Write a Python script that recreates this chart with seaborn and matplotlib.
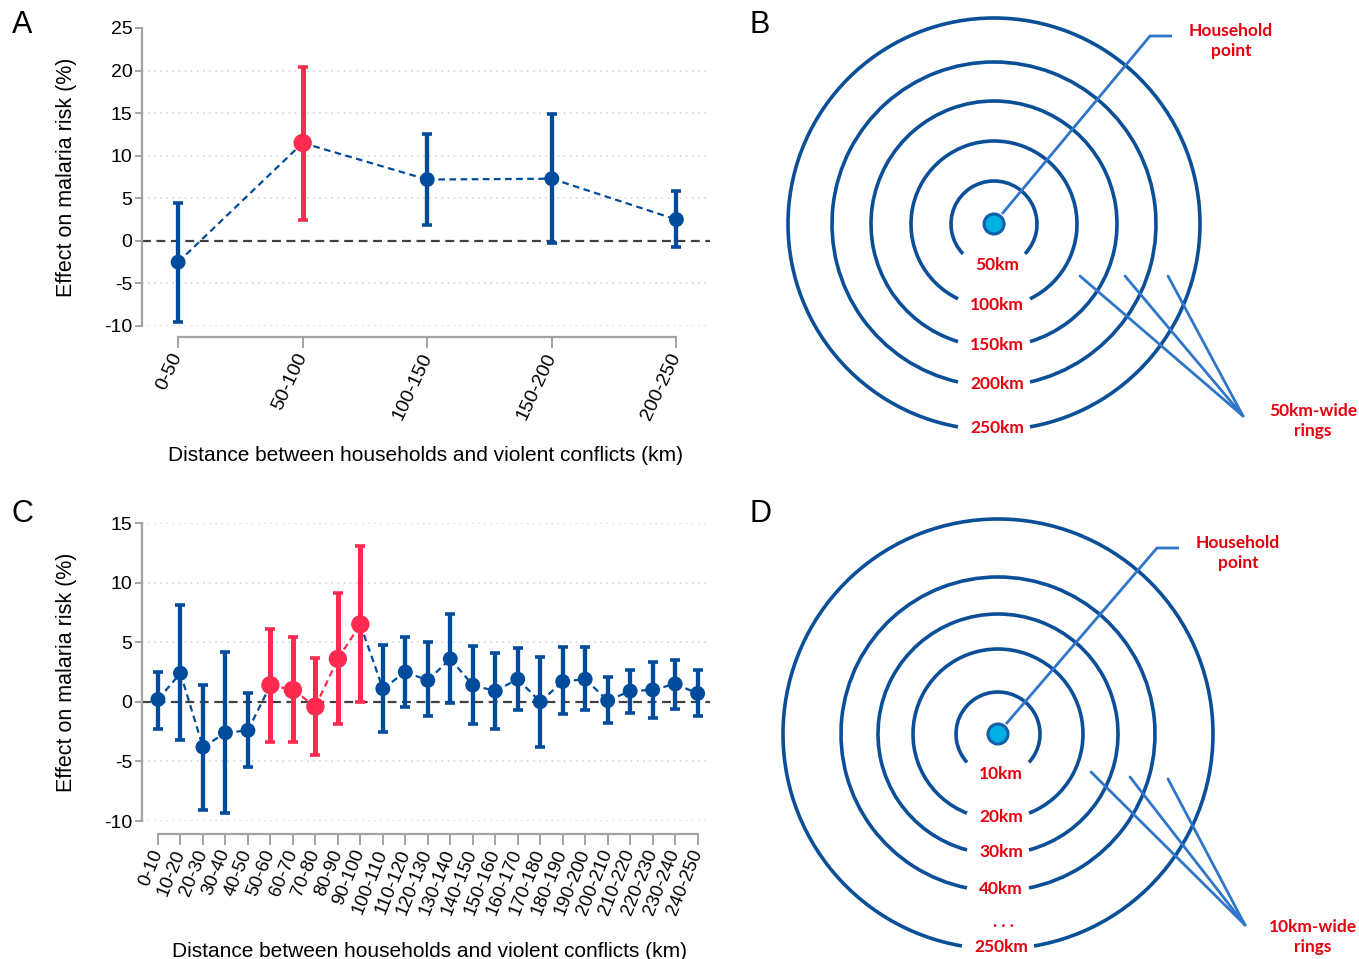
import numpy as np
import pandas as pd
import matplotlib
matplotlib.use('Agg')
import matplotlib.pyplot as plt
from matplotlib.patches import Arc, Circle
import seaborn as sns

# ---- data: effect on malaria risk (%) by distance band ----
bins_50 = ['0-50', '50-100', '100-150', '150-200', '200-250']
est_50 = [-2.5, 11.5, 7.2, 7.3, 2.5]
lo_50 = [-9.5, 2.5, 1.9, -0.2, -0.7]
hi_50 = [4.4, 20.4, 12.6, 14.9, 5.8]
sig_50 = [False, True, False, False, False]

bins_10 = ['0-10', '10-20', '20-30', '30-40', '40-50', '50-60', '60-70', '70-80',
           '80-90', '90-100', '100-110', '110-120', '120-130', '130-140', '140-150',
           '150-160', '160-170', '170-180', '180-190', '190-200', '200-210',
           '210-220', '220-230', '230-240', '240-250']
est_10 = [0.2, 2.4, -3.8, -2.6, -2.4, 1.4, 1.0, -0.4, 3.6, 6.5, 1.1, 2.5, 1.8,
          3.6, 1.4, 0.9, 1.9, 0.0, 1.7, 1.9, 0.1, 0.9, 1.0, 1.5, 0.7]
lo_10 = [-2.3, -3.2, -9.1, -9.3, -5.5, -3.4, -3.4, -4.5, -1.9, 0.0, -2.5, -0.4,
         -1.2, -0.1, -1.9, -2.3, -0.7, -3.8, -1.0, -0.7, -1.8, -0.9, -1.4, -0.6, -1.2]
hi_10 = [2.5, 8.1, 1.4, 4.2, 0.7, 6.1, 5.4, 3.7, 9.1, 13.1, 4.8, 5.4, 5.0, 7.4,
         4.7, 4.1, 4.5, 3.8, 4.6, 4.6, 2.1, 2.7, 3.3, 3.5, 2.7]
sig_10 = [False] * 5 + [True] * 5 + [False] * 15

ring_labels_50 = ['50km', '100km', '150km', '200km', '250km']
ring_labels_10 = ['10km', '20km', '30km', '40km', '250km']

BLUE = '#004C9C'
RED = '#FF2A4F'
RING = '#0A4F97'
LEADER = '#2F75C8'
TXT_RED = '#E6000E'
GRAY = '#A3A3A3'

sns.set_style('white')
plt.rcParams['font.family'] = ['Liberation Sans', 'DejaVu Sans']
plt.rcParams['text.color'] = 'black'
plt.rcParams['axes.labelcolor'] = 'black'

W, H = 1359, 959
fig = plt.figure(figsize=(W / 100, H / 100), dpi=100)


def px_axes(left, top, right, bottom):
    return fig.add_axes([left / W, 1 - bottom / H, (right - left) / W, (bottom - top) / H])


def plot_effects(ax, bins, est, lo, hi, sig, ylim, yticks, grid, xlim, offset,
                 xsize, rot):
    df = pd.DataFrame({'pos': np.arange(len(bins)), 'est': est, 'lo': lo, 'hi': hi,
                       'grp': ['sig' if s else 'ns' for s in sig]})
    for g in grid:
        ax.axhline(g, color='#CFCFCF', lw=1.1, ls=(0, (1, 3)), zorder=0)
    ax.axhline(0, color='#404040', lw=1.6, ls=(0, (4, 2.5)), zorder=1)
    # dashed connector, red only between two significant bands
    for i in range(len(df) - 1):
        c = RED if sig[i] and sig[i + 1] else BLUE
        ax.plot(df.pos[i:i + 2], df.est[i:i + 2], color=c, lw=1.6,
                ls=(0, (3, 2)), zorder=2)
    for g, sub in df.groupby('grp'):
        col = RED if g == 'sig' else BLUE
        lw = 3.6 if g == 'sig' else 3.1
        ax.errorbar(sub.pos, sub.est, yerr=[sub.est - sub.lo, sub.hi - sub.est],
                    fmt='none', ecolor=col, elinewidth=lw, capsize=3.5,
                    capthick=2.6, zorder=3)
    sns.scatterplot(data=df, x='pos', y='est', hue='grp', size='grp',
                    palette={'ns': BLUE, 'sig': RED}, sizes={'ns': 115, 'sig': 175},
                    edgecolor='none', legend=False, ax=ax, zorder=4)
    ax.set_xlim(*xlim)
    ax.set_ylim(*ylim)
    # spines first: moving a spine resets the tick labels
    for s in ['top', 'right']:
        ax.spines[s].set_visible(False)
    for s in ['left', 'bottom']:
        ax.spines[s].set_color(GRAY)
        ax.spines[s].set_linewidth(1.6)
    ax.spines['bottom'].set_position(('outward', offset))
    ax.spines['bottom'].set_bounds(0, len(bins) - 1)
    ax.spines['left'].set_bounds(ylim[0], ylim[1])
    ax.tick_params(axis='y', length=5, width=1.4, color=GRAY, labelsize=14, pad=2,
                   left=True, labelcolor='black')
    ax.tick_params(axis='x', length=8, width=1.4, color=GRAY, labelsize=xsize,
                   pad=4, bottom=True, labelcolor='black')
    ax.set_yticks(yticks)
    ax.set_yticklabels([str(t) for t in yticks])
    ax.set_xticks(df.pos)
    ax.set_xticklabels(bins, rotation=rot, ha='right', va='center',
                       rotation_mode='anchor')
    ax.set_xlabel('Distance between households and violent conflicts (km)',
                  fontsize=15)
    ax.set_ylabel('Effect on malaria risk (%)', fontsize=15.5)
    ax.yaxis.set_label_coords(-0.114, 0.5)


axA = px_axes(142, 28, 710, 326)
plot_effects(axA, bins_50, est_50, lo_50, hi_50, sig_50, (-10, 25),
             [-10, -5, 0, 5, 10, 15, 20, 25], [-10, -5, 5, 10, 15, 20],
             (-0.29, 4.27), 8, 14, 65)
axA.xaxis.set_label_coords(0.5, -0.403)

axC = px_axes(142, 523, 710, 821)
plot_effects(axC, bins_10, est_10, lo_10, hi_10, sig_10, (-10, 15),
             [-10, -5, 0, 5, 10, 15], [-10, -5, 5, 10, 15],
             (-0.71, 24.55), 9, 13.5, 68)
axC.xaxis.set_label_coords(0.507, -0.405)

# ---- ring diagrams (pixel coordinates overlay) ----
ov = fig.add_axes([0, 0, 1, 1])
ov.set_xlim(0, W)
ov.set_ylim(H, 0)
ov.axis('off')
ov.patch.set_alpha(0)

lab_font = dict(family=['Lato', 'DejaVu Sans'], fontweight='bold', color=TXT_RED,
                fontsize=12.5)


def draw_rings(cx, cy, radii, labels, leader, fan_from, fan_to, note_xy, note,
               dots=None):
    for r, lab in zip(radii, labels):
        half = 5 * len(lab) + 11
        g = np.degrees(np.arcsin(min(half / r, 0.9)))
        ov.add_patch(Arc((cx, cy), 2 * r, 2 * r, theta1=90 + g, theta2=450 - g,
                         color=RING, lw=2.6))
        ov.text(cx + 3, cy + r - 2, lab, ha='center', va='center', **lab_font)
    if dots is not None:
        ov.text(cx + 5, dots, '. . .', ha='center', va='center', **lab_font)
    ov.add_patch(Circle((cx, cy), 10, facecolor='#00B0E2', edgecolor='#145FA8',
                        lw=2.2, zorder=5))
    ov.plot([cx + 8, leader[0], leader[0] + 22], [cy - 10, leader[1], leader[1]],
            color=LEADER, lw=2.0, solid_capstyle='butt')
    for fx, fy in fan_from:
        ov.plot([fx, fan_to[0]], [fy, fan_to[1]], color=LEADER, lw=2.0)
    ov.text(leader[0] + 81, leader[1] + 5, 'Household\npoint', ha='center',
            va='center', linespacing=1.25, **lab_font)
    ov.text(note_xy[0], note_xy[1], note, ha='center', va='center',
            linespacing=1.25, **lab_font)


draw_rings(994, 224, [43, 83, 123, 162, 206], ring_labels_50, (1150, 36),
           [(1080, 276), (1125, 276), (1168, 276)], (1243, 416), (1313, 421),
           '50km-wide\nrings')
draw_rings(998, 734, [42, 85, 120, 157, 215], ring_labels_10, (1157, 548),
           [(1091, 772), (1130, 777), (1168, 779)], (1245, 925), (1313, 937),
           '10km-wide\nrings', dots=922)

for letter, x, y in [('A', 22, 25), ('B', 760, 25), ('C', 22, 514), ('D', 760, 514)]:
    ov.text(x, y, letter, ha='center', va='center', fontsize=22)

fig.savefig('out.png', dpi=100)
